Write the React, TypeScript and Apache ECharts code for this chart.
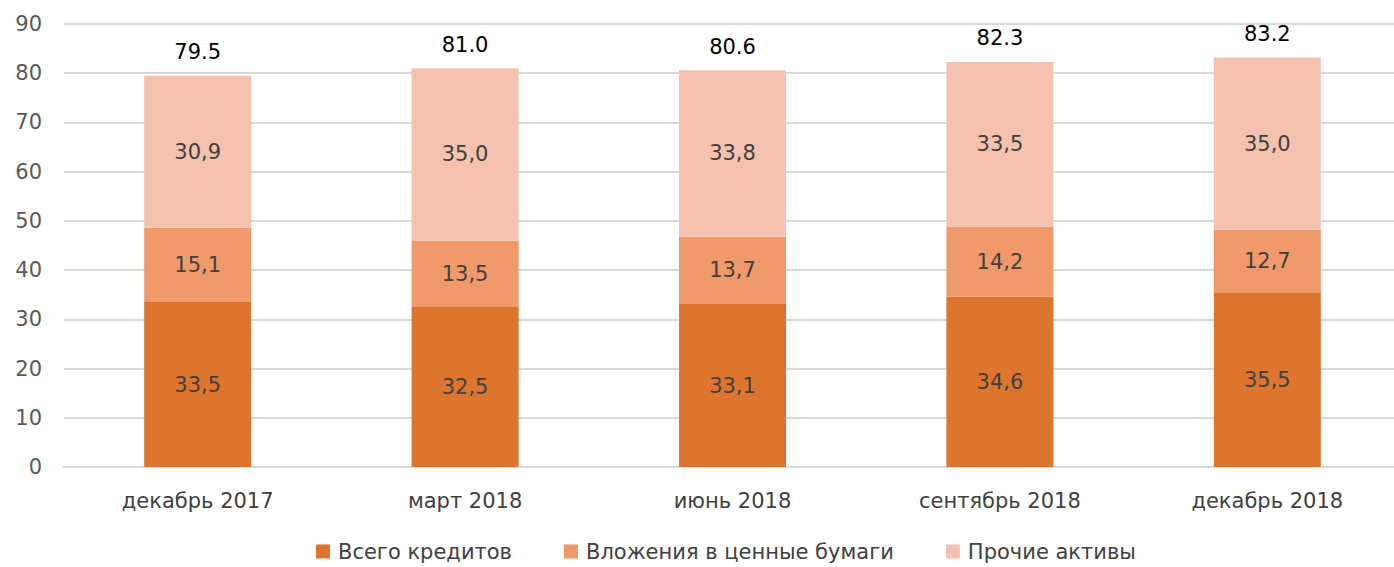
import React, { useEffect, useRef } from "react";
import * as echarts from "echarts";

const categories = ["декабрь 2017", "март 2018", "июнь 2018", "сентябрь 2018", "декабрь 2018"];
const loans = [33.5, 32.5, 33.1, 34.6, 35.5];
const securities = [15.1, 13.5, 13.7, 14.2, 12.7];
const other = [30.9, 35.0, 33.8, 33.5, 35.0];
const totals = [79.5, 81.0, 80.6, 82.3, 83.2];
const seriesNames = ["Всего кредитов", "Вложения в ценные бумаги", "Прочие активы"];
const yTicks = { min: 0, max: 90, interval: 10 };

const FONT = "'DejaVu Sans', 'Open Sans', sans-serif";
const FS = 21;

export default function App() {
  const ref = useRef<HTMLDivElement>(null);
  useEffect(() => {
    if (!ref.current) return;
    document.body.style.overflow = "hidden";
    const chart = echarts.init(ref.current, undefined, { renderer: "svg" });
    const segLabel = {
      show: true,
      position: "inside",
      color: "#404040",
      fontSize: FS,
      fontFamily: FONT,
      formatter: (p: any) => Number(p.value).toFixed(1).replace(".", ","),
    };
    chart.setOption({
      animation: false,
      backgroundColor: "#ffffff",
      grid: { left: 64, right: 0, top: 24, bottom: 100, containLabel: false },
      legend: {
        top: 536,
        left: 311,
        itemWidth: 14,
        itemHeight: 14,
        itemGap: 52,
        icon: "rect",
        textStyle: {
          fontSize: FS,
          fontFamily: FONT,
          color: "#404040",
          padding: [0, 0, 0, 3],
        },
        data: seriesNames,
      },
      xAxis: {
        type: "category",
        data: categories,
        axisLine: { lineStyle: { color: "#d9d9d9", width: 2 } },
        axisTick: { show: false },
        axisLabel: { color: "#404040", fontSize: FS, fontFamily: FONT, margin: 23 },
      },
      yAxis: {
        type: "value",
        min: yTicks.min,
        max: yTicks.max,
        interval: yTicks.interval,
        axisLine: { show: false },
        axisTick: { show: false },
        splitLine: { lineStyle: { color: "#d9d9d9", width: 2 } },
        axisLabel: { color: "#595959", fontSize: FS, fontFamily: FONT, margin: 22 },
      },
      series: [
        {
          name: seriesNames[0],
          type: "bar",
          stack: "s",
          barWidth: 107,
          data: loans,
          itemStyle: { color: "#DE752E" },
          label: segLabel,
        },
        {
          name: seriesNames[1],
          type: "bar",
          stack: "s",
          data: securities,
          itemStyle: { color: "#F0996B" },
          label: segLabel,
        },
        {
          name: seriesNames[2],
          type: "bar",
          stack: "s",
          data: other,
          itemStyle: { color: "#F5C2AF" },
          label: segLabel,
        },
        {
          name: "total",
          type: "bar",
          stack: "s",
          data: totals.map(() => 0),
          itemStyle: { color: "transparent" },
          label: {
            show: true,
            position: "top",
            distance: 13,
            color: "#000000",
            fontSize: FS,
            fontFamily: FONT,
            formatter: (p: any) => totals[p.dataIndex].toFixed(1),
          },
        },
      ],
    });
    return () => chart.dispose();
  }, []);
  return (
    <div
      ref={ref}
      style={{ position: "fixed", left: 0, top: 0, width: 1401, height: 567 }}
    />
  );
}
